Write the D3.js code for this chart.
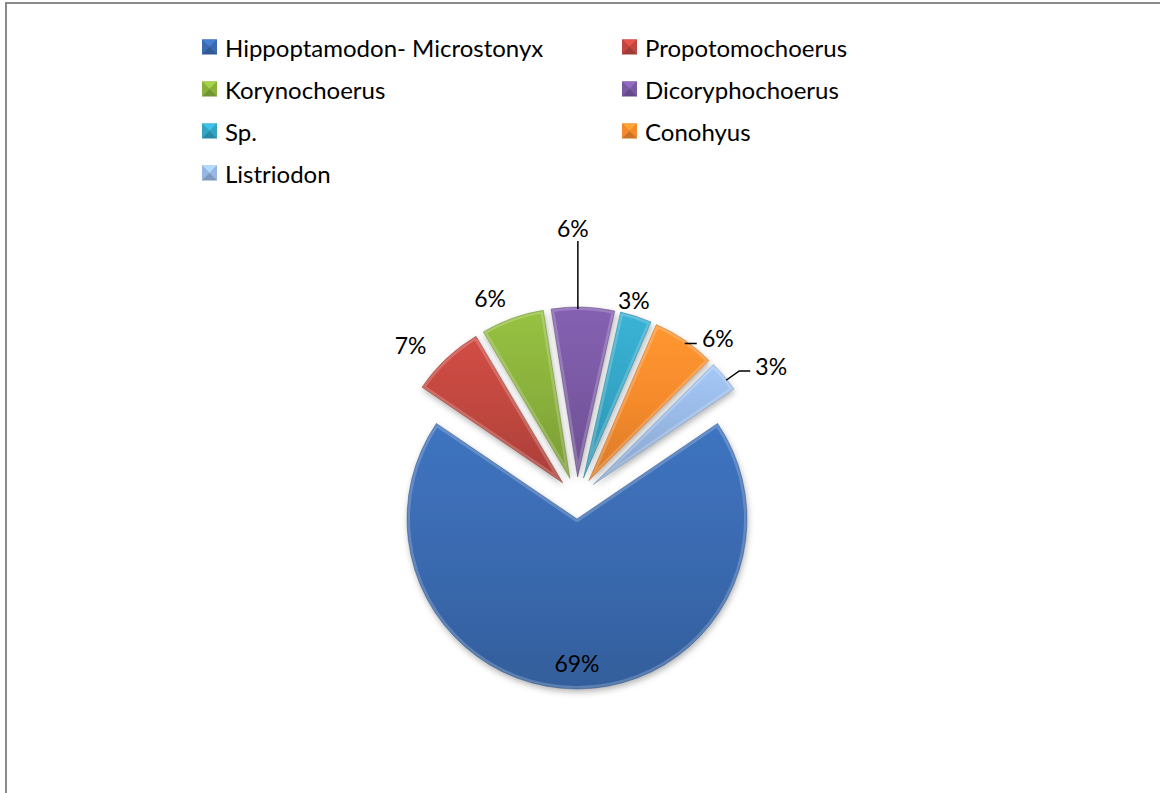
<!DOCTYPE html>
<html>
<head>
<meta charset="utf-8">
<script src="https://cdn.jsdelivr.net/npm/d3@7"></script>
<style>
  body { margin: 0; background: #fff; }
  svg { display: block; }
  text { font-family: Lato, "Open Sans", sans-serif; fill: #000; }
</style>
</head>
<body>
<svg id="chart" width="1160" height="793"></svg>
<script>
// data (percent of finds per genus)
const genera = ["Hippoptamodon- Microstonyx", "Propotomochoerus", "Korynochoerus",
  "Dicoryphochoerus", "Sp.", "Conohyus", "Listriodon"];
const shares = [69, 7, 6, 6, 3, 6, 3];
const colours = ["#3a6ab0", "#c0473f", "#8ab13c", "#7a59a3", "#34a4c4", "#f58a2c", "#97b7e3"];

// layout
const cx = 577, cy = 498, radius = 170, explode = 21;
// label distance from slice tip and angular nudge (degrees)
const labelDist = [144, 205, 197, 249, 185, 192, 214];
const labelTurn = [0, -4.7, -4.1, -2.9, -2.2, 8, 5.9];
const leader = [false, false, false, true, false, true, true];

const svg = d3.select("#chart");
const defs = svg.append("defs");

// frame of the chart area
svg.append("rect")
  .attr("x", 6).attr("y", 3)
  .attr("width", 1200).attr("height", 850)
  .attr("fill", "none").attr("stroke", "#8a8a8a").attr("stroke-width", 2);

const shadow = defs.append("filter").attr("id", "shadow")
  .attr("x", "-20%").attr("y", "-20%").attr("width", "140%").attr("height", "140%");
shadow.append("feDropShadow")
  .attr("dx", 1).attr("dy", 3).attr("stdDeviation", 3)
  .attr("flood-color", "#000").attr("flood-opacity", 0.3);

colours.forEach((c, i) => {
  const g = defs.append("linearGradient").attr("id", "grad" + i)
    .attr("x1", 0).attr("y1", 0).attr("x2", 0).attr("y2", 1);
  g.append("stop").attr("offset", "0%").attr("stop-color", d3.color(c).brighter(0.25));
  g.append("stop").attr("offset", "50%").attr("stop-color", c);
  g.append("stop").attr("offset", "100%").attr("stop-color", d3.color(c).darker(0.35));
});

const total = d3.sum(shares);
// first slice sits centred on the bottom
const start = Math.PI - (shares[0] / total) * Math.PI;
const pie = d3.pie().sort(null).startAngle(start).endAngle(start + 2 * Math.PI);
const arcs = pie(shares);
const arc = d3.arc().innerRadius(0).outerRadius(radius);

const dirOf = a => [Math.sin(a), -Math.cos(a)];

const slices = svg.append("g");
arcs.forEach((d, i) => {
  const mid = (d.startAngle + d.endAngle) / 2;
  const [ux, uy] = dirOf(mid);
  const ox = cx + explode * ux, oy = cy + explode * uy;
  const g = slices.append("g").attr("transform", `translate(${ox},${oy})`);

  defs.append("clipPath").attr("id", "clip" + i)
    .append("path").attr("d", arc(d));

  g.append("path")
    .attr("d", arc(d))
    .attr("fill", `url(#grad${i})`)
    .attr("filter", "url(#shadow)");
  // bevel: light inner rim, dark outer edge
  g.append("path")
    .attr("d", arc(d))
    .attr("fill", "none")
    .attr("stroke", "#fff").attr("stroke-opacity", 0.2).attr("stroke-width", 6)
    .attr("stroke-linejoin", "round")
    .attr("clip-path", `url(#clip${i})`);
  g.append("path")
    .attr("d", arc(d))
    .attr("fill", "none")
    .attr("stroke", d3.color(colours[i]).darker(1)).attr("stroke-opacity", 0.45).attr("stroke-width", 1);
});

// data labels
const labels = svg.append("g");
arcs.forEach((d, i) => {
  const mid = (d.startAngle + d.endAngle) / 2;
  const [ux, uy] = dirOf(mid);
  const ox = cx + explode * ux, oy = cy + explode * uy;
  const [vx, vy] = dirOf(mid + labelTurn[i] * Math.PI / 180);
  const lx = ox + labelDist[i] * vx, ly = oy + labelDist[i] * vy;
  const pct = Math.round(d.data / total * 100) + "%";

  if (leader[i]) {
    const ax = ox + radius * ux, ay = oy + radius * uy;
    let pts;
    if (Math.abs(ux) < 0.3) {
      pts = [[lx + 5, ay + 2], [lx + 5, ly + 13]];
    } else {
      pts = [[ax + 2, ay + 4], [lx - 32, ly + 5], [lx - 21, ly + 5]];
    }
    labels.append("path")
      .attr("d", d3.line()(pts))
      .attr("fill", "none").attr("stroke", "#000").attr("stroke-width", 1.5);
  }

  labels.append("text")
    .attr("x", lx).attr("y", ly)
    .attr("text-anchor", "middle")
    .attr("dominant-baseline", "central")
    .attr("font-size", 23)
    .text(pct);
});

// legend, two columns
const legend = svg.append("g");
const colX = [202, 622], rowY0 = 47, rowStep = 42, sw = 15;
genera.forEach((name, i) => {
  const x = colX[i % 2], y = rowY0 + Math.floor(i / 2) * rowStep;
  const g = legend.append("g").attr("transform", `translate(${x},${y - sw / 2})`);
  const c = d3.color(colours[i]);
  g.append("rect").attr("width", sw).attr("height", sw).attr("fill", c.darker(0.5));
  g.append("path").attr("d", `M0,0L${sw},0L${sw / 2},${sw / 2}Z`).attr("fill", c.brighter(0.5));
  g.append("path").attr("d", `M0,0L${sw / 2},${sw / 2}L0,${sw}Z`).attr("fill", c);
  g.append("path").attr("d", `M${sw},0L${sw / 2},${sw / 2}L${sw},${sw}Z`).attr("fill", c);
  legend.append("text")
    .attr("x", x + 23).attr("y", y)
    .attr("dominant-baseline", "central")
    .attr("font-size", 24)
    .text(name);
});
</script>
</body>
</html>
